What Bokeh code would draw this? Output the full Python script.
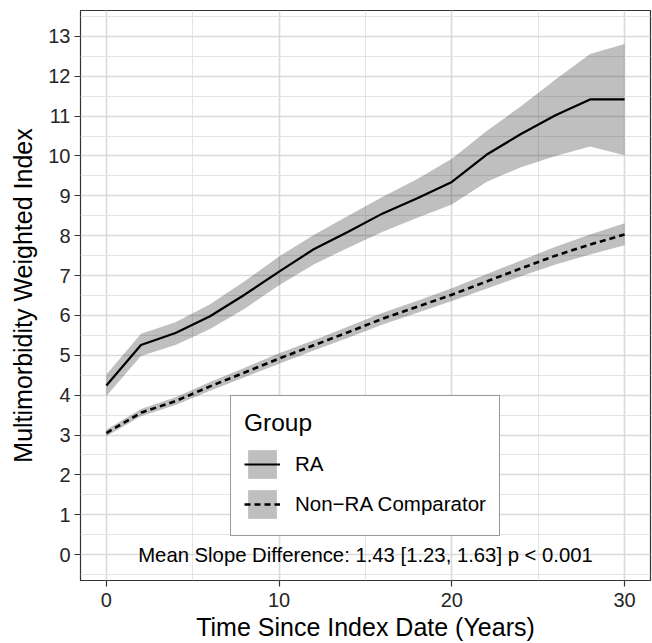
from bokeh.plotting import figure
from bokeh.models import FixedTicker, Legend, LegendItem, ColumnDataSource, Range1d
from bokeh.core.properties import value
from bokeh.embed import file_html
from bokeh.resources import INLINE

# ---- data ----
years = [0, 2, 4, 6, 8, 10, 12, 14, 16, 18, 20, 22, 24, 26, 28, 30]
ra_mean = [4.24, 5.26, 5.56, 5.98, 6.52, 7.10, 7.66, 8.10, 8.56, 8.94, 9.35, 10.03, 10.55, 11.02, 11.42, 11.42]
ra_lower = [3.98, 4.98, 5.26, 5.66, 6.17, 6.76, 7.28, 7.70, 8.10, 8.45, 8.78, 9.35, 9.72, 10.00, 10.24, 10.02]
ra_upper = [4.52, 5.54, 5.83, 6.28, 6.86, 7.48, 8.02, 8.50, 8.98, 9.42, 9.93, 10.62, 11.25, 11.92, 12.56, 12.81]
non_mean = [3.05, 3.56, 3.85, 4.22, 4.57, 4.92, 5.25, 5.58, 5.92, 6.22, 6.52, 6.85, 7.18, 7.50, 7.78, 8.03]
non_lower = [2.97, 3.47, 3.75, 4.11, 4.45, 4.79, 5.12, 5.44, 5.77, 6.07, 6.36, 6.67, 6.98, 7.28, 7.53, 7.76]
non_upper = [3.13, 3.65, 3.95, 4.33, 4.69, 5.05, 5.38, 5.72, 6.07, 6.37, 6.68, 7.03, 7.38, 7.72, 8.03, 8.31]
group_labels = ["RA", "Non\u2212RA Comparator"]
legend_title = "Group"
x_ticks = [0, 10, 20, 30]
x_minor = [5, 15, 25]
y_ticks = list(range(0, 14))
y_minor = [k + 0.5 for k in range(-1, 14)]
annotation = "Mean Slope Difference: 1.43 [1.23, 1.63] p < 0.001"
annot_x = [15]
annot_y = [0]

FONT = "Liberation Sans"

p = figure(width=652, height=643, output_backend="svg", toolbar_location=None,
           x_range=Range1d(-1.5, 31.5), y_range=Range1d(-0.65, 13.65),
           min_border_left=80, min_border_right=2, min_border_top=10, min_border_bottom=61)

p.background_fill_color = "white"
p.border_fill_color = "white"
p.outline_line_color = "#333333"
p.outline_line_width = 1.2

# grid
p.xaxis.ticker = FixedTicker(ticks=x_ticks, minor_ticks=x_minor)
p.yaxis.ticker = FixedTicker(ticks=y_ticks, minor_ticks=y_minor)
for g in (p.xgrid, p.ygrid):
    g.grid_line_color = "#DADADA"
    g.grid_line_width = 1.6
    g.minor_grid_line_color = "#E4E4E4"
    g.minor_grid_line_width = 1.0

# axes
for ax in (p.xaxis, p.yaxis):
    ax.axis_line_color = None
    ax.major_tick_line_color = "#333333"
    ax.major_tick_line_width = 1.2
    ax.major_tick_in = 0
    ax.major_tick_out = 6
    ax.minor_tick_line_color = None
    ax.major_label_text_font = FONT
    ax.major_label_text_font_size = "20px"
    ax.major_label_text_color = "#262626"
    ax.axis_label_text_font = FONT
    ax.axis_label_text_font_size = "25px"
    ax.axis_label_text_font_style = "normal"
    ax.axis_label_text_color = "black"
p.xaxis.axis_label = "Time Since Index Date (Years)"
p.yaxis.axis_label = "Multimorbidity Weighted Index"
p.xaxis.major_label_standoff = 6
p.xaxis.axis_label_standoff = 3
p.yaxis.major_label_standoff = 4
p.yaxis.axis_label_standoff = 8

src = ColumnDataSource(dict(x=years, ra_m=ra_mean, ra_l=ra_lower, ra_u=ra_upper,
                            n_m=non_mean, n_l=non_lower, n_u=non_upper))

band_ra = p.varea(x="x", y1="ra_l", y2="ra_u", source=src, fill_color="black", fill_alpha=0.25)
band_non = p.varea(x="x", y1="n_l", y2="n_u", source=src, fill_color="black", fill_alpha=0.25)
line_ra = p.line(x="x", y="ra_m", source=src, line_color="black", line_width=2.2)
line_non = p.line(x="x", y="n_m", source=src, line_color="black", line_width=2.6, line_dash="6 4")

p.text(x=annot_x, y=annot_y, text=[annotation], text_align="center", text_baseline="middle",
       text_font=value(FONT), text_font_size="20.3px", text_color="black")

legend = Legend(items=[LegendItem(label=group_labels[0], renderers=[band_ra, line_ra]),
                       LegendItem(label=group_labels[1], renderers=[band_non, line_non])],
                location=(150, 44), title=legend_title,
                title_text_font=FONT, title_text_font_size="24.5px", title_text_font_style="normal",
                title_text_color="black", title_standoff=9,
                label_text_font=FONT, label_text_font_size="20.5px", label_text_color="black",
                glyph_width=36, glyph_height=36, label_height=36, spacing=4, padding=13,
                label_standoff=15, margin=0,
                border_line_color="#333333", border_line_width=1.2,
                background_fill_color="white", background_fill_alpha=1.0)
p.add_layout(legend, "center")

open("out.html", "w").write(file_html(p, INLINE))
